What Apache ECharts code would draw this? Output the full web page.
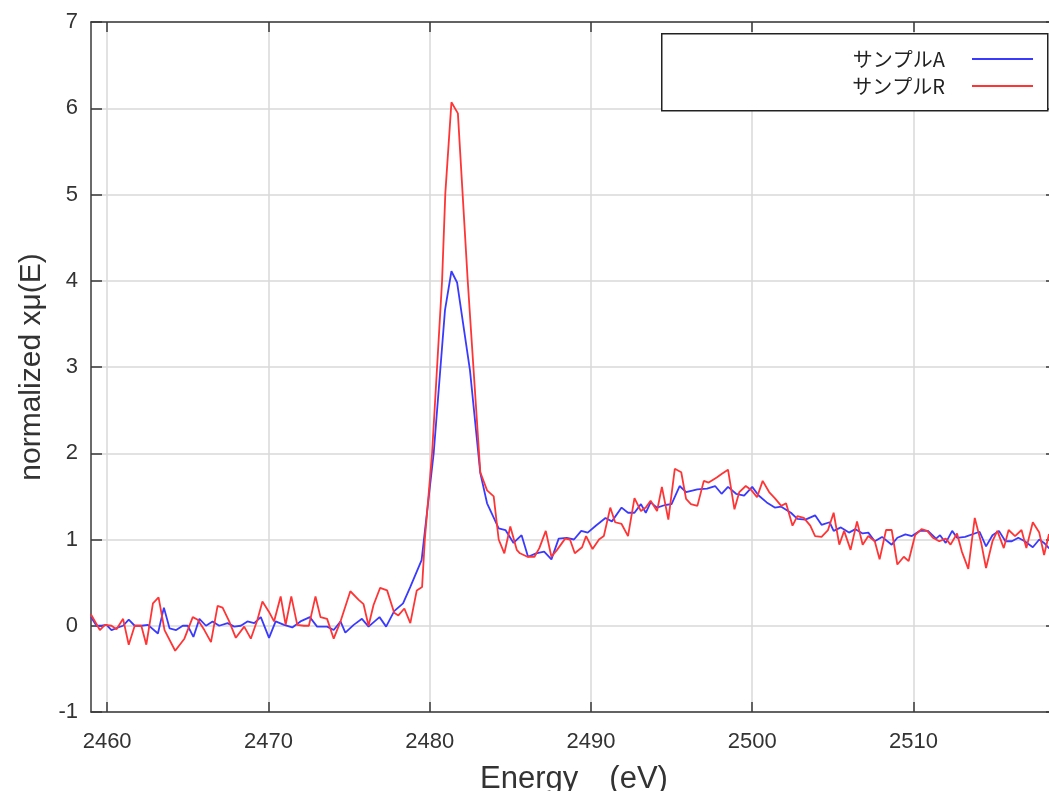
<!DOCTYPE html>
<html>
<head>
<meta charset="utf-8">
<script src="https://cdn.jsdelivr.net/npm/echarts@6/dist/echarts.min.js"></script>
<style>html,body{margin:0;padding:0;background:#fff;overflow:hidden;}#c{width:1057px;height:791px;}</style>
</head>
<body>
<div id="c"></div>
<script>
// ---- data ----
const seriesNames = ['サンプルA', 'サンプルR'];
const xTicks = [2460, 2470, 2480, 2490, 2500, 2510];

const energyA = [2459.0,2459.34,2459.65,2459.96,2460.27,2460.68,2460.99,2461.34,2461.71,2462.12,2462.53,2463.15,2463.52,2463.87,2464.28,2464.69,2465.0,2465.35,2465.72,2466.13,2466.54,2466.95,2467.47,2467.88,2468.29,2468.7,2469.12,2469.53,2470.04,2470.45,2470.97,2471.48,2471.99,2472.57,2473.02,2473.64,2474.05,2474.47,2474.77,2475.29,2475.8,2476.21,2476.89,2477.3,2477.8,2478.35,2478.8,2479.5,2480.25,2480.95,2481.35,2481.7,2482.5,2483.14,2483.56,2484.28,2484.7,2485.2,2485.7,2486.1,2486.6,2487.1,2487.55,2488.0,2488.5,2488.95,2489.4,2489.8,2490.3,2490.9,2491.3,2491.9,2492.3,2492.7,2493.1,2493.4,2493.7,2494.1,2494.6,2495.0,2495.5,2495.9,2496.6,2497.2,2497.7,2498.1,2498.5,2499.0,2499.5,2500.0,2500.4,2500.9,2501.4,2501.8,2502.4,2502.8,2503.3,2503.9,2504.3,2504.8,2505.05,2505.5,2506.0,2506.4,2506.85,2507.2,2507.6,2508.05,2508.65,2509.0,2509.5,2509.9,2510.4,2510.9,2511.4,2511.65,2512.0,2512.4,2512.7,2513.2,2514.1,2514.5,2514.9,2515.3,2515.7,2516.1,2516.5,2516.9,2517.4,2517.8,2518.1,2518.4,2518.9];
const valueA = [0.10,0.00,0.00,0.01,-0.05,-0.02,0.00,0.07,0.00,0.00,0.01,-0.09,0.21,-0.03,-0.05,0.00,0.00,-0.13,0.08,0.00,0.05,0.00,0.03,-0.01,0.00,0.05,0.03,0.10,-0.14,0.05,0.01,-0.02,0.05,0.10,-0.01,-0.01,-0.05,0.05,-0.08,0.01,0.08,-0.01,0.10,-0.01,0.17,0.26,0.45,0.76,2.00,3.66,4.11,3.98,2.96,1.77,1.42,1.13,1.11,0.96,1.05,0.80,0.84,0.86,0.77,1.01,1.02,1.00,1.10,1.08,1.16,1.25,1.21,1.37,1.31,1.31,1.41,1.31,1.43,1.37,1.40,1.41,1.62,1.55,1.58,1.59,1.62,1.53,1.61,1.53,1.51,1.61,1.51,1.43,1.37,1.38,1.31,1.24,1.23,1.28,1.17,1.20,1.10,1.14,1.08,1.12,1.07,1.08,0.98,1.03,0.94,1.02,1.06,1.04,1.10,1.10,1.01,1.05,0.96,1.10,1.02,1.03,1.09,0.92,1.05,1.10,0.98,0.98,1.02,0.98,0.91,1.00,0.96,0.90,0.95];

const energyR = [2459.0,2459.55,2459.86,2460.27,2460.58,2460.99,2461.34,2461.71,2462.12,2462.43,2462.84,2463.19,2463.56,2464.22,2464.79,2465.31,2465.62,2466.03,2466.44,2466.85,2467.16,2467.57,2467.98,2468.5,2468.91,2469.32,2469.63,2470.04,2470.35,2470.76,2471.07,2471.42,2471.79,2472.2,2472.51,2472.92,2473.23,2473.64,2474.05,2474.47,2475.08,2475.6,2475.9,2476.21,2476.52,2476.93,2477.36,2477.8,2478.06,2478.43,2478.8,2479.2,2479.53,2479.7,2480.15,2480.77,2480.97,2481.35,2481.75,2482.36,2483.14,2483.56,2483.97,2484.28,2484.63,2485.0,2485.4,2485.6,2486.06,2486.5,2486.8,2487.2,2487.55,2487.9,2488.4,2488.7,2489.0,2489.45,2489.7,2490.1,2490.5,2490.8,2491.2,2491.5,2491.9,2492.3,2492.7,2493.1,2493.4,2493.7,2494.1,2494.4,2494.8,2495.2,2495.6,2495.9,2496.2,2496.6,2497.0,2497.3,2497.8,2498.1,2498.5,2498.9,2499.2,2499.6,2499.96,2500.3,2500.65,2501.05,2501.4,2501.8,2502.1,2502.5,2502.8,2503.2,2503.6,2503.9,2504.3,2504.7,2505.05,2505.4,2505.7,2506.1,2506.5,2506.85,2507.2,2507.6,2507.9,2508.3,2508.65,2509.0,2509.4,2509.7,2510.1,2510.5,2510.85,2511.2,2511.6,2512.0,2512.3,2512.7,2513.0,2513.4,2513.8,2514.2,2514.5,2514.9,2515.2,2515.6,2515.9,2516.3,2516.7,2517.0,2517.4,2517.8,2518.1,2518.4,2518.9];
const valueR = [0.13,-0.05,0.01,0.00,-0.04,0.08,-0.22,0.00,0.00,-0.22,0.26,0.33,-0.05,-0.29,-0.15,0.10,0.07,-0.05,-0.19,0.23,0.21,0.05,-0.14,-0.01,-0.15,0.07,0.28,0.16,0.05,0.34,0.01,0.34,0.01,0.00,0.00,0.34,0.10,0.08,-0.15,0.05,0.40,0.30,0.25,0.00,0.24,0.44,0.41,0.15,0.12,0.20,0.03,0.41,0.45,1.00,2.00,4.00,5.01,6.07,5.94,4.00,1.78,1.57,1.50,1.00,0.84,1.15,0.88,0.84,0.80,0.80,0.90,1.10,0.80,0.88,1.01,1.00,0.84,0.91,1.04,0.89,1.00,1.04,1.37,1.20,1.18,1.04,1.48,1.33,1.37,1.45,1.33,1.61,1.23,1.82,1.78,1.47,1.41,1.39,1.68,1.66,1.72,1.76,1.81,1.35,1.55,1.62,1.57,1.49,1.68,1.55,1.48,1.39,1.42,1.16,1.27,1.25,1.16,1.04,1.03,1.11,1.31,0.94,1.10,0.88,1.21,0.94,1.04,0.98,0.77,1.11,1.11,0.71,0.80,0.75,1.05,1.12,1.10,1.02,0.98,1.01,0.94,1.07,0.86,0.66,1.25,0.96,0.67,0.98,1.10,0.90,1.11,1.04,1.11,0.90,1.20,1.08,0.82,1.06,0.95];

const pairs = (xs, ys) => xs.map((x, i) => [x, ys[i]]);

const chart = echarts.init(document.getElementById('c'), null, {renderer: 'canvas'});
const axisColor = '#3a3a3a';
const labelFont = {fontFamily: 'Liberation Sans, Arial, sans-serif', fontSize: 22, color: '#333'};
chart.setOption({
  animation: false,
  backgroundColor: '#fff',
  grid: {left: 91, top: 22, right: 0, bottom: 79, containLabel: false, outerBoundsMode: 'none'},
  legend: {
    orient: 'vertical', right: 24, top: 49, align: 'right', padding: 0,
    icon: 'rect', itemWidth: 61, itemHeight: 2, itemGap: 7,
    textStyle: {fontFamily: 'Noto Sans CJK JP', fontSize: 20, color: '#222', padding: [0, 22, 0, 0]},
    data: seriesNames
  },
  graphic: [{
    type: 'rect', left: 661, top: 33, z: 3,
    shape: {width: 386, height: 77},
    style: {fill: '#fff', stroke: '#222', lineWidth: 1.5}
  }],
  xAxis: [{
    type: 'value', min: 2459, max: 2518.9, position: 'bottom',
    axisLine: {show: true, onZero: false, lineStyle: {color: axisColor, width: 1.5}},
    axisTick: {show: true, inside: true, length: 10, customValues: xTicks, lineStyle: {color: axisColor, width: 1.5}},
    axisLabel: Object.assign({customValues: xTicks, margin: 19, formatter: v => String(v)}, labelFont),
    splitLine: {show: true, lineStyle: {color: '#d9d9d9', width: 1.5}},
    name: 'Energy\u3000(eV)', nameLocation: 'middle', nameGap: 52,
    nameTextStyle: {fontFamily: 'Liberation Sans, Arial, sans-serif', fontSize: 31, color: '#333'}
  }, {
    type: 'value', min: 2459, max: 2518.9, position: 'top',
    axisLine: {show: true, onZero: false, lineStyle: {color: axisColor, width: 1.5}},
    axisTick: {show: true, inside: true, length: 10, customValues: xTicks, lineStyle: {color: axisColor, width: 1.5}},
    axisLabel: {show: false},
    splitLine: {show: false}
  }],
  yAxis: [{
    type: 'value', min: -1, max: 7, interval: 1, position: 'left',
    axisLine: {show: true, onZero: false, lineStyle: {color: axisColor, width: 1.5}},
    axisTick: {show: true, inside: true, length: 11, lineStyle: {color: axisColor, width: 1.5}},
    axisLabel: Object.assign({margin: 13}, labelFont),
    splitLine: {show: true, lineStyle: {color: '#d9d9d9', width: 1.5}},
    name: 'normalized xμ(E)', nameLocation: 'middle', nameGap: 44, nameRotate: 90,
    nameTextStyle: {fontFamily: 'Liberation Sans, Arial, sans-serif', fontSize: 30, color: '#333'}
  }, {
    type: 'value', min: -1, max: 7, interval: 1, position: 'right',
    axisLine: {show: true, onZero: false, lineStyle: {color: axisColor, width: 1.5}},
    axisTick: {show: true, inside: true, length: 11, lineStyle: {color: axisColor, width: 1.5}},
    axisLabel: {show: false},
    splitLine: {show: false}
  }],
  series: [{
    name: seriesNames[0], type: 'line', symbol: 'none', showSymbol: false,
    data: pairs(energyA, valueA),
    lineStyle: {color: '#3a3aff', width: 1.8}, itemStyle: {color: '#3a3aff'}, z: 2
  }, {
    name: seriesNames[1], type: 'line', symbol: 'none', showSymbol: false,
    data: pairs(energyR, valueR),
    lineStyle: {color: '#ff3535', width: 1.8}, itemStyle: {color: '#ff3535'}, z: 2
  }]
});
</script>
</body>
</html>
